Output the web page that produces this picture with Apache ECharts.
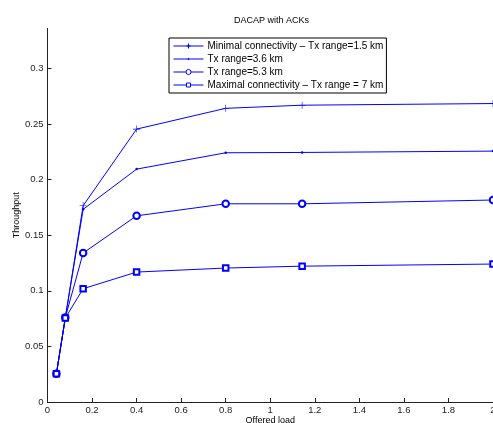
<!DOCTYPE html>
<html>
<head>
<meta charset="utf-8">
<script src="https://cdn.jsdelivr.net/npm/echarts@6/dist/echarts.min.js"></script>
<style>
  html, body { margin: 0; padding: 0; background: #fff; }
  #main { width: 493px; height: 423px; }
</style>
</head>
<body>
<div id="main"></div>
<script>
// offered load (x) and throughput for each Tx range
var load = [0.04, 0.08, 0.16, 0.4, 0.8, 1.143, 2.0];
var minimal15 = [0.0255, 0.0755, 0.1766, 0.2455, 0.2642, 0.2670, 0.2685];
var range36 = [0.0255, 0.0760, 0.1733, 0.2095, 0.2242, 0.2245, 0.2257];
var range53 = [0.0255, 0.0760, 0.1340, 0.1675, 0.1783, 0.1783, 0.1817];
var maximal7 = [0.0255, 0.0755, 0.1019, 0.1169, 0.1205, 0.1222, 0.1241];
var yTicks = [0, 0.05, 0.1, 0.15, 0.2, 0.25, 0.3];

var names = [
  "Minimal connectivity \u2013 Tx range=1.5 km",
  "Tx range=3.6 km",
  "Tx range=5.3 km",
  "Maximal connectivity \u2013 Tx range = 7 km"
];

function pairs(ys) {
  return load.map(function (x, i) { return [x, ys[i]]; });
}

var blue = "#0000ff";
var plus = "path://M0,4.6H10V5.4H0Z M4.6,0H5.4V10H4.6Z";

// legend icons: line with marker, 30x8 box, stroked
var icons = [
  "path://M0,4H30 M15,1.5V6.5 M13,4H17",
  "path://M0,4H30 M14.4,4A0.6,0.6 0 1 1 15.6,4A0.6,0.6 0 1 1 14.4,4",
  "path://M0,4H12.5 M17.5,4H30 M17.5,4A2.5,2.5 0 1 1 12.5,4A2.5,2.5 0 1 1 17.5,4",
  "path://M0,4H13 M17,4H30 M13,2H17V6H13Z"
];

var chart = echarts.init(document.getElementById("main"));

var option = {
  animation: false,
  textStyle: { fontFamily: "Liberation Sans, Arial, sans-serif" },
  title: {
    text: "DACAP with ACKs",
    left: 229,
    top: 11,
    textStyle: { fontSize: 9, fontWeight: "normal", color: "#000" }
  },
  legend: {
    orient: "vertical",
    left: 169,
    top: 38,
    itemWidth: 30,
    itemHeight: 8,
    itemGap: 3,
    padding: [3, 3, 3, 4],
    borderColor: "#000",
    borderWidth: 1,
    backgroundColor: "#fff",
    textStyle: { fontSize: 10, color: "#000", padding: [0, 0, 0, -1] },
    data: names.map(function (n, i) {
      return {
        name: n,
        icon: icons[i],
        itemStyle: { color: "rgba(0,0,0,0)", borderColor: blue, borderWidth: 1 }
      };
    })
  },
  grid: { left: 47.5, right: 0, top: 28.5, bottom: 21, outerBoundsMode: "none" },
  xAxis: {
    type: "value",
    min: 0,
    max: 2,
    interval: 0.2,
    name: "Offered load",
    nameLocation: "middle",
    nameGap: 14,
    nameMoveOverlap: false,
    nameTextStyle: { fontSize: 9, color: "#000" },
    axisLine: { lineStyle: { color: "#222", width: 1 } },
    axisTick: { inside: true, length: 4, lineStyle: { color: "#222" } },
    axisLabel: { fontSize: 9.5, color: "#222", margin: 3, showMaxLabel: true },
    splitLine: { show: false }
  },
  yAxis: {
    type: "value",
    min: 0,
    max: 0.336,
    name: "Throughput",
    nameLocation: "middle",
    nameRotate: 90,
    nameGap: 26,
    nameMoveOverlap: false,
    nameTextStyle: { fontSize: 9, color: "#000" },
    axisLine: { show: true, lineStyle: { color: "#222", width: 1 } },
    axisTick: { show: true, inside: true, length: 4, customValues: yTicks, lineStyle: { color: "#222" } },
    axisLabel: { fontSize: 9.5, color: "#222", margin: 4, customValues: yTicks },
    splitLine: { show: false }
  },
  series: [
    {
      name: names[0],
      type: "line",
      data: pairs(minimal15),
      symbol: plus,
      symbolSize: 7,
      itemStyle: { color: blue },
      lineStyle: { color: blue, width: 1 }
    },
    {
      name: names[1],
      type: "line",
      data: pairs(range36),
      symbol: "circle",
      symbolSize: 2.5,
      itemStyle: { color: blue },
      lineStyle: { color: blue, width: 1 }
    },
    {
      name: names[2],
      type: "line",
      data: pairs(range53),
      symbol: "emptyCircle",
      symbolSize: 6.5,
      itemStyle: { color: blue, borderColor: blue, borderWidth: 0.8 },
      lineStyle: { color: blue, width: 1 }
    },
    {
      name: names[3],
      type: "line",
      data: pairs(maximal7),
      symbol: "emptyRect",
      symbolSize: 5.5,
      itemStyle: { color: blue, borderColor: blue, borderWidth: 0.8 },
      lineStyle: { color: blue, width: 1 }
    }
  ]
};

chart.setOption(option);
</script>
</body>
</html>
